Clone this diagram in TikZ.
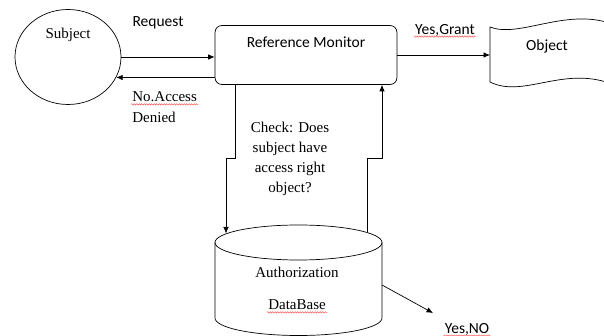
\documentclass[tikz,border=0pt]{standalone}
\usepackage{fontspec}
\setmainfont{Liberation Serif}
\newfontfamily\calibri{Carlito}
\usetikzlibrary{shapes.geometric,decorations.pathmorphing,arrows.meta}

\begin{document}
\begin{tikzpicture}[x=1pt,y=-1pt,>={Latex[length=6.5pt,width=5.5pt]},line width=0.7pt,
  serif/.style={font=\fontsize{15}{20}\selectfont,inner sep=1pt},
  sans/.style={font=\calibri\fontsize{15.5}{18}\selectfont,inner sep=1pt},
  squiggle/.style={red!75,line width=0.4pt,decorate,
    decoration={snake,amplitude=0.7pt,segment length=2.5pt}}]
\useasboundingbox (0,0) rectangle (604,336);

\node [draw, ellipse, minimum width=106pt, minimum height=95pt] (subject) at (68,57) {};
\node [serif] (subjname) at (68,35) {Subject};
\node [draw, rounded corners=7pt, minimum width=182pt, minimum height=59pt] (monitor) at (306,55) {};
\node [sans] (monname) at (306,42) {Reference Monitor};

\draw (490,27) .. controls (518,38) and (562,10) .. (606,22)
  -- (606,82) .. controls (560,68) and (522,98) .. (490,82) -- cycle;
\node [sans] (objname) at (547,46) {Object};
\coordinate (objin) at (490,55);

\draw (298.5,242.5) ellipse [x radius=83.5, y radius=17.5];
\draw (215,242.5) -- (215,318) arc [start angle=180, end angle=0, x radius=83.5, y radius=17.5] -- (382,242.5);
\node [serif] (authname) at (297,272) {Authorization};
\node [serif] (dbname) at (297,305) {DataBase};
\coordinate (dbin) at (226,233.5);
\coordinate (dbout) at (367,232.5);
\coordinate (dbside) at (382,285);
\coordinate (yntip) at (433,313);

\node [sans] (request) at (158,23) {Request};
\node [serif, anchor=west] (noaccess) at (131,97) {No.Access};
\node [serif, anchor=west] (denied) at (131,117) {Denied};
\node [sans] (grant) at (445,30) {Yes,Grant};
\node [serif, align=center] (check) at (290,159) {Check: Does\\subject have\\access right\\object?};
\node [sans] (yesno) at (467,329) {Yes,NO};

\draw [->] (subject.east) -- (subject.east -| monitor.west);
\draw [->] (monitor.west |- subject.-23) -- (subject.-23);
\draw [->] (monitor.east) -- (objin);
\draw [->] ([xshift=-71pt]monitor.south) -- ++(0,73.5) -| (dbin);
\draw [->] (dbout) -- ++(0,-74.5) -| ([xshift=76pt]monitor.south);
\draw [->] (dbside) -- (yntip);

\draw [squiggle] ([yshift=-2.5pt]noaccess.base west) -- ([yshift=-2.5pt]noaccess.base east);
\draw [squiggle] ([yshift=-2.5pt]grant.base west) -- ([yshift=-2.5pt]grant.base east);
\draw [squiggle] ([yshift=-2.5pt]dbname.base west) -- ([yshift=-2.5pt]dbname.base east);
\draw [squiggle] ([yshift=-2.5pt]yesno.base west) -- ([yshift=-2.5pt]yesno.base east);
\end{tikzpicture}
\end{document}
